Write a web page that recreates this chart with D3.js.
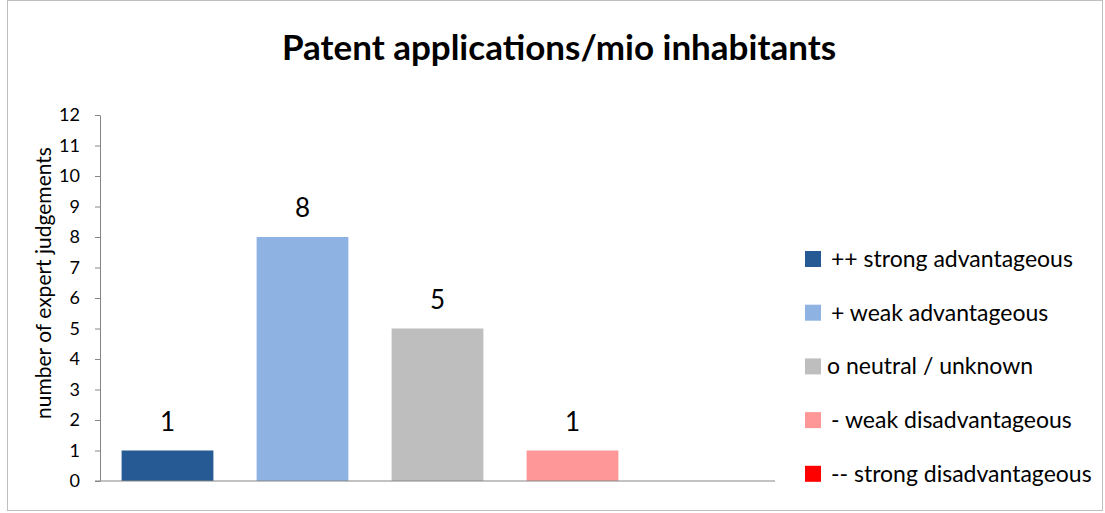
<!DOCTYPE html>
<html><head><meta charset="utf-8">
<script src="https://cdn.jsdelivr.net/npm/d3@7"></script>
<style>body{margin:0;background:#fff;} svg{display:block;font-family:Lato,"Open Sans",sans-serif;}</style>
</head><body><div id="chart"></div>
<script>
const categories = ["++ strong advantageous","+ weak advantageous","o neutral / unknown","- weak disadvantageous","-- strong disadvantageous"];
const values = [1, 8, 5, 1, 0];
const colors = ["#255A94","#8EB3E2","#BEBEBE","#FE9898","#FF0000"];
const yTicks = [0,1,2,3,4,5,6,7,8,9,10,11,12];
const title = "Patent applications/mio inhabitants";
const yLabel = "number of expert judgements";

const W = 1105, H = 513;
const svg = d3.select("#chart").append("svg").attr("width", W).attr("height", H);
svg.append("rect").attr("x",7.5).attr("y",0.5).attr("width",W-10).attr("height",H-3)
  .attr("fill","#fff").attr("stroke","#BFBFBF");

const m = {left:100, right:775, top:115, bottom:481};
const x = d3.scaleBand().domain(categories).range([m.left, m.right]).paddingInner(0.32).paddingOuter(0.16);
const y = d3.scaleLinear().domain([0,12]).range([m.bottom, m.top]);

svg.append("text").attr("x",559).attr("y",60).attr("text-anchor","middle")
  .attr("font-size",35).attr("font-weight","bold").attr("fill","#000").text(title);

const yAxis = d3.axisLeft(y).tickValues(yTicks).tickSize(5).tickSizeOuter(0);
const gy = svg.append("g").attr("transform",`translate(${m.left},0)`).call(yAxis);
gy.select(".domain").attr("stroke","#868686");
gy.selectAll(".tick line").attr("stroke","#868686");
gy.selectAll(".tick text").attr("font-size",18).attr("fill","#000").attr("x",-20).attr("font-family","Lato,sans-serif");

svg.append("text").attr("transform",`translate(51,283) rotate(-90)`)
  .attr("text-anchor","middle").attr("font-size",21).attr("fill","#000").text(yLabel);

svg.selectAll("rect.bar").data(values).join("rect").attr("class","bar")
  .attr("x",(d,i)=>x(categories[i])).attr("width",x.bandwidth())
  .attr("y",d=>y(d)).attr("height",d=>y(0)-y(d)).attr("fill",(d,i)=>colors[i]);

svg.append("line").attr("x1",m.left-5).attr("x2",m.right).attr("y1",y(0)).attr("y2",y(0))
  .attr("stroke","#868686").attr("stroke-width",1.2);

values.forEach((d,i)=>{
  if (d>0) svg.append("text").attr("class","val")
    .attr("x", x(categories[i])+x.bandwidth()/2)
    .attr("y", y(d)-20).attr("text-anchor","middle").attr("font-size",26).attr("fill","#000")
    .text(d);
});

const lg = svg.append("g");
categories.forEach((c,i)=>{
  const cy = 259 + i*53.7;
  lg.append("rect").attr("x",805).attr("y",cy-8).attr("width",16).attr("height",16).attr("fill",colors[i]);
  lg.append("text").attr("x", i===2?827:831).attr("y",cy+8).attr("font-size",23).attr("fill","#000").text(c);
});
</script></body></html>
